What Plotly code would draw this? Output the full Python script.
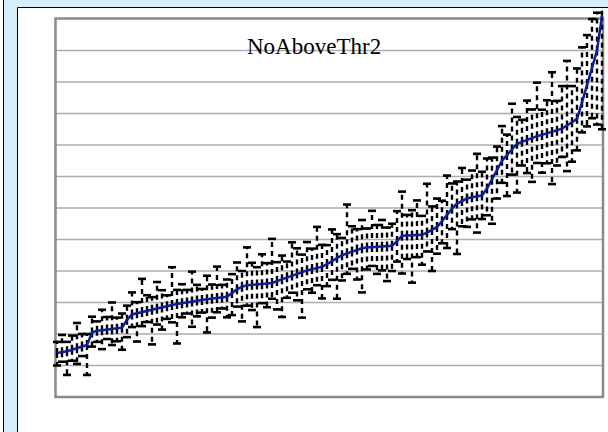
import plotly.graph_objects as go

# Sorted estimates with their asymmetric uncertainty (plus / minus)
values = [
    1.40, 1.42, 1.45, 1.50, 1.55, 1.60, 1.65, 2.05, 2.10, 2.12,
    2.14, 2.15, 2.17, 2.20, 2.45, 2.62, 2.66, 2.70, 2.73, 2.77,
    2.80, 2.84, 2.88, 2.92, 2.95, 2.98, 3.00, 3.03, 3.06, 3.08,
    3.10, 3.12, 3.14, 3.16, 3.18, 3.30, 3.42, 3.50, 3.55, 3.56,
    3.57, 3.58, 3.60, 3.62, 3.68, 3.74, 3.80, 3.86, 3.92, 3.97,
    4.02, 4.06, 4.10, 4.13, 4.22, 4.32, 4.42, 4.50, 4.56, 4.62,
    4.68, 4.72, 4.75, 4.76, 4.76, 4.77, 4.78, 4.80, 4.95, 5.12,
    5.13, 5.13, 5.14, 5.15, 5.22, 5.30, 5.40, 5.58, 5.78, 5.98,
    6.14, 6.22, 6.30, 6.34, 6.37, 6.40, 6.62, 6.90, 7.20, 7.50,
    7.68, 7.86, 8.04, 8.10, 8.16, 8.23, 8.28, 8.32, 8.37, 8.41,
    8.45, 8.52, 8.62, 8.72, 8.83, 9.35, 9.94, 10.45, 11.00, 12.10,
]

err_plus = [
    0.35, 0.55, 0.30, 0.45, 0.80, 0.40, 0.35, 0.50, 0.30, 0.65, 0.40, 0.85, 0.35, 0.45,
    0.45, 0.70, 0.35, 1.05, 0.50, 0.40, 0.85, 0.55, 0.35, 1.20, 0.45,
    0.60, 0.40, 0.95, 0.50, 0.35, 0.75, 0.45, 1.00, 0.40, 0.55,
    0.60, 0.85, 0.50, 1.20, 0.70, 0.55, 0.95, 0.65, 1.40, 0.60, 0.75,
    0.50, 1.05, 0.80, 0.55, 0.90, 0.65, 1.30, 0.70, 0.60, 1.00, 0.75,
    0.55, 1.55, 0.80, 0.65, 0.90, 0.60, 1.15, 0.70, 0.85, 0.60,
    0.70, 0.95, 1.40, 0.65, 0.80, 1.10, 0.60, 1.55, 0.75, 0.90, 0.65,
    1.25, 0.80, 0.70, 1.05, 0.60, 0.85, 1.35, 0.75, 0.95, 0.70,
    0.75, 1.10, 0.65, 1.45, 0.85, 0.70, 1.25, 0.90, 1.70,
    0.80, 1.05, 1.90, 0.95, 1.35, 2.05, 1.15, 1.60,
    1.75, 1.55, 1.55, 1.20, 0.80,
]

err_minus = [
    0.40, 0.30, 0.75, 0.35, 0.50, 0.30, 0.95, 0.45, 0.35, 0.60, 0.30, 0.50, 0.40, 0.70,
    0.55, 0.40, 0.90, 0.45, 0.35, 1.10, 0.50, 0.70, 0.40, 0.55, 1.25,
    0.45, 0.35, 0.80, 0.50, 0.40, 1.05, 0.60, 0.45, 0.35, 0.65,
    0.70, 0.55, 1.10, 0.65, 0.80, 1.35, 0.60, 0.75, 0.50, 0.90, 1.20,
    0.65, 0.55, 0.85, 1.45, 0.60, 0.75, 0.55, 1.00, 0.70, 0.60, 1.30,
    0.80, 0.65, 0.55, 0.95, 1.40, 0.70, 0.60, 0.85, 0.75, 1.10,
    0.80, 0.65, 1.20, 0.75, 1.50, 0.70, 0.95, 0.60, 1.30, 0.85, 0.70,
    1.05, 0.65, 1.60, 0.80, 0.90, 0.70, 1.15, 0.75, 0.85, 1.40,
    0.90, 0.70, 1.30, 0.80, 1.55, 0.75, 1.05, 1.40, 0.85,
    1.20, 0.95, 1.65, 1.10, 0.90, 1.45, 1.25, 1.00,
    0.95, 1.35, 1.60, 2.35, 3.60,
]

title_text = "NoAboveThr2"
gridline_levels = list(range(1, 12))

W, H = 608, 432
PAGE_BG = "#D5EEFB"
SERIES_BLUE = "#0C1E98"
GRID = "#ADADAD"
FRAME = "#8A8A8A"

# pixel layout of the chart pieces
plot_left, plot_right, plot_top, plot_bottom = 56, 603, 19, 397
dom_left, dom_right, dom_top, dom_bottom = 44, 608, 8, 405
first_px, last_px = 57, 602

n = len(values)
idx = list(range(n))

# axis ranges chosen so the first/last points sit on the frame edges
px_per_x = (last_px - first_px) / (n - 1)
x_range = [0 - (first_px - dom_left) / px_per_x, (n - 1) + (dom_right - last_px) / px_per_x]
px_per_y = (plot_bottom - plot_top) / 12.0
y_range = [0 - (dom_bottom - plot_bottom) / px_per_y, 12 + (plot_top - dom_top) / px_per_y]


def px_x(p):
    return p / W


def px_y(p):
    return (H - p) / H


# dashed error bars, drawn outward from each point
ex, ey = [], []
cx, cy = [], []
cap = 0.8
for i, m, up, dn in zip(idx, values, err_plus, err_minus):
    ex += [i, i, None, i, i, None]
    ey += [m, m + up, None, m, m - dn, None]
    cx += [i - cap, i + cap, None, i - cap, i + cap, None]
    cy += [m + up, m + up, None, m - dn, m - dn, None]

fig = go.Figure()
fig.add_trace(go.Scatter(
    x=ex, y=ey, mode="lines", connectgaps=False,
    line=dict(color="black", width=2.4, dash="5px,4px"),
    hoverinfo="skip", showlegend=False,
))
fig.add_trace(go.Scatter(
    x=cx, y=cy, mode="lines", connectgaps=False,
    line=dict(color="black", width=2.6),
    hoverinfo="skip", showlegend=False,
))
fig.add_trace(go.Scatter(
    x=idx, y=values, mode="lines",
    line=dict(color=SERIES_BLUE, width=2.5),
    showlegend=False,
))

shapes = [
    # neighbouring panel strip on the far left
    dict(type="rect", xref="paper", yref="paper", x0=-0.01, x1=px_x(3.5), y0=-0.01, y1=1.01,
         fillcolor="white", line=dict(width=0), layer="below"),
    dict(type="line", xref="paper", yref="paper", x0=px_x(3.5), x1=px_x(3.5), y0=-0.01, y1=1.01,
         line=dict(color="black", width=1), layer="below"),
    # chart area
    dict(type="rect", xref="paper", yref="paper", x0=px_x(17.5), x1=1.05, y0=-0.05, y1=px_y(7.5),
         fillcolor="white", line=dict(color="black", width=1), layer="below"),
]
for g in gridline_levels:
    shapes.append(dict(type="line", xref="paper", yref="y", x0=px_x(plot_left), x1=px_x(plot_right),
                       y0=g, y1=g, line=dict(color=GRID, width=1.5), layer="below"))
shapes.append(dict(type="rect", xref="paper", yref="paper",
                   x0=px_x(plot_left - 0.5), x1=px_x(plot_right), y0=px_y(plot_bottom), y1=px_y(plot_top - 0.5),
                   line=dict(color=FRAME, width=2.5), layer="below"))

fig.update_layout(
    width=W, height=H,
    margin=dict(l=0, r=0, t=0, b=0),
    paper_bgcolor=PAGE_BG,
    plot_bgcolor="rgba(0,0,0,0)",
    shapes=shapes,
    xaxis=dict(domain=[px_x(dom_left), px_x(dom_right)], range=x_range,
               showgrid=False, zeroline=False, showticklabels=False, ticks="", showline=False),
    yaxis=dict(domain=[px_y(dom_bottom), px_y(dom_top)], range=y_range,
               showgrid=False, zeroline=False, showticklabels=False, ticks="", showline=False),
    annotations=[dict(
        text=title_text, xref="paper", yref="paper", x=px_x(314), y=px_y(46),
        xanchor="center", yanchor="middle", showarrow=False,
        font=dict(family="Liberation Serif, Times New Roman, serif", size=23, color="black"),
    )],
)

fig.write_html("out.html")
